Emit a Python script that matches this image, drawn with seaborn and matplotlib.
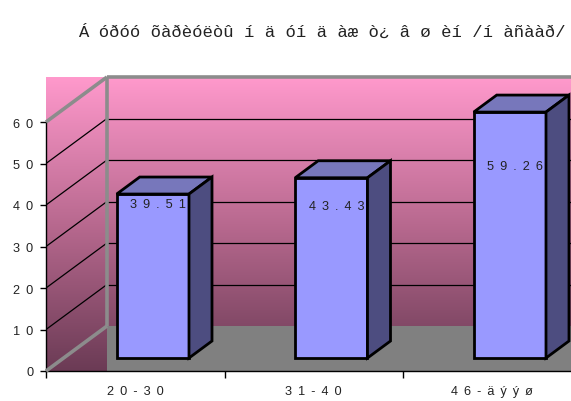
import numpy as np
import matplotlib
matplotlib.use("Agg")
import matplotlib.pyplot as plt
import seaborn as sns
from matplotlib.patches import Polygon, Rectangle
from matplotlib.colors import LinearSegmentedColormap
from matplotlib.lines import Line2D

# data
age_groups = ["20-30", "31-40", "46-äýýø"]
share = [39.51, 43.43, 59.26]
y_ticks = [0, 10, 20, 30, 40, 50, 60]
title = "Á óðóó õàðèóëòû í ä óí ä àæ ò¿ â ø èí /í àñààð/"

# styling
label_drop_px = [10, 28, 54]      # value label distance below each bar top
wall_depth_px = (61, 45)          # offset of the back wall from the front plane
bar_front_px = (17.6, 13)         # offset of bar front faces
bar_depth_px = (23, 17)           # depth of each box
front_col, top_col, side_col = "#9999FF", "#7777BB", "#4D4D80"
text_col = "#222222"
fs = 9.2

sns.set_theme(style="white")
plt.rcParams["font.family"] = ["Liberation Sans", "DejaVu Sans"]


def spaced(s):
    # letter-spaced rendering: word space plus thin space between glyphs
    return " \u2009".join(s)


W, H = 571, 402
fig = plt.figure(figsize=(W / 100, H / 100), dpi=100)
ax = fig.add_axes([46 / W, 30 / H, 525 / W, 294 / H])

px_x, px_y = 178.5, 4.15
xmin = -0.5
xmax = xmin + 525 / px_x
ymax = 294 / px_y


def dx(p):
    return p / px_x


def dy(p):
    return p / px_y


# wall gradient
cmap = LinearSegmentedColormap.from_list("wall", ["#6B3B55", "#B8698F", "#FF99CC"])
ax.imshow(np.linspace(0, 1, 256).reshape(-1, 1), extent=[xmin, xmax, 0, ymax],
          cmap=cmap, origin="lower", aspect="auto", zorder=0)

wx, wy = dx(wall_depth_px[0]), dy(wall_depth_px[1])
# floor
ax.add_patch(Rectangle((xmin + wx, 0), xmax - xmin - wx, wy, color="#808080",
                       zorder=1, lw=0))

# gridlines on the back and side walls
for v in y_ticks[1:-1]:
    ax.add_line(Line2D([xmin + wx, xmax], [v + wy, v + wy], color="black", lw=0.9, zorder=2))
    ax.add_line(Line2D([xmin, xmin + wx], [v, v + wy], color="black", lw=0.9, zorder=2))

# wall edges
edge_kw = dict(color="#8C8C8C", lw=2.6, zorder=3, solid_capstyle="butt", clip_on=False)
top_v = y_ticks[-1]
ax.add_line(Line2D([xmin, xmin + wx], [top_v, top_v + wy], **edge_kw))
ax.add_line(Line2D([xmin, xmin + wx], [0, wy], **edge_kw))
ax.add_line(Line2D([xmin + wx, xmin + wx], [wy, top_v + wy], **edge_kw))
ax.add_line(Line2D([xmin + wx, xmax], [top_v + wy, top_v + wy], **edge_kw))

# bars
sns.barplot(x=age_groups, y=share, ax=ax, width=0.405, color=front_col,
            saturation=1, edgecolor="black", linewidth=2, zorder=5)

fx, fy = dx(bar_front_px[0]), dy(bar_front_px[1])
bx, by = dx(bar_depth_px[0]), dy(bar_depth_px[1])
for p, v, drop in zip(ax.containers[0], share, label_drop_px):
    x0 = p.get_x() + fx
    w = p.get_width()
    x1 = x0 + w
    p.set_x(x0)
    p.set_y(fy)
    p.set_joinstyle("miter")
    top = fy + p.get_height()
    ax.add_patch(Polygon([(x0, top), (x1, top), (x1 + bx, top + by), (x0 + bx, top + by)],
                         closed=True, fc=top_col, ec="black", lw=2, zorder=5, joinstyle="miter"))
    ax.add_patch(Polygon([(x1, fy), (x1 + bx, fy + by), (x1 + bx, top + by), (x1, top)],
                         closed=True, fc=side_col, ec="black", lw=2, zorder=5, joinstyle="miter"))
    ax.text(x1 - dx(3), top - dy(drop), spaced(f"{v:.2f}"), ha="right", va="center",
            fontsize=fs, color=text_col, zorder=6)

ax.set_xlim(xmin, xmax)
ax.set_ylim(0, ymax)
ax.grid(False)

# axes
for s in ("top", "right"):
    ax.spines[s].set_visible(False)
for s in ("left", "bottom"):
    ax.spines[s].set_color("black")
    ax.spines[s].set_linewidth(1)
ax.spines["left"].set_bounds(0, top_v)

ax.set_yticks(y_ticks)
ax.set_yticklabels([spaced(str(t)) for t in y_ticks])
ax.tick_params(axis="y", left=True, length=4, width=1, color="black", pad=5,
               labelsize=fs, labelcolor=text_col)

ax.set_xticks(range(len(age_groups)))
ax.set_xticklabels([spaced(c) for c in age_groups])
ax.set_xticks([i - 0.5 for i in range(len(age_groups))], minor=True)
ax.tick_params(axis="x", which="major", bottom=False, length=0, pad=10,
               labelsize=fs, labelcolor=text_col)
ax.tick_params(axis="x", which="minor", bottom=True, length=5, width=1, color="black")
ax.set_xlabel("")
ax.set_ylabel("")

fig.text(78 / W, 1 - 32 / H, title, family=["Liberation Mono", "DejaVu Sans Mono"],
         fontsize=12.4, va="center", ha="left", color=text_col)

fig.savefig("out.png", dpi=100)
